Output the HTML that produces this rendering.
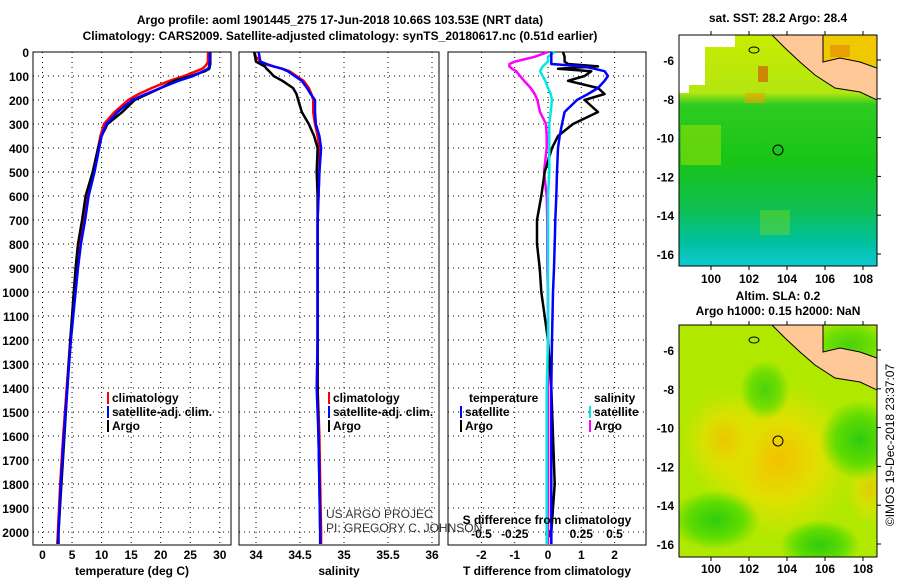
<!DOCTYPE html>
<html><head><meta charset="utf-8">
<style>
body{margin:0;background:#fff;}
svg text{font-family:"Liberation Sans",sans-serif;font-weight:bold;font-size:12px;fill:#000;}
</style></head><body>
<svg id="c" width="900" height="580" viewBox="0 0 900 580" xmlns="http://www.w3.org/2000/svg">
<defs>
<linearGradient id="sstg" x1="0" y1="0" x2="0" y2="1">
<stop offset="0" stop-color="#c8ec00"/><stop offset="0.25" stop-color="#b4e610"/>
<stop offset="0.3" stop-color="#30cc20"/><stop offset="0.55" stop-color="#18c418"/>
<stop offset="0.75" stop-color="#10c050"/><stop offset="0.9" stop-color="#00c0a0"/><stop offset="1" stop-color="#10c8d0"/>
</linearGradient>
<radialGradient id="ylw" cx="0.5" cy="0.5" r="0.5"><stop offset="0" stop-color="#f4c000"/><stop offset="0.5" stop-color="#e0e000"/><stop offset="1" stop-color="#d8e400" stop-opacity="0"/></radialGradient>
<radialGradient id="grn" cx="0.5" cy="0.5" r="0.5"><stop offset="0" stop-color="#30cc10"/><stop offset="0.6" stop-color="#60dc00"/><stop offset="1" stop-color="#60dc00" stop-opacity="0"/></radialGradient>
<clipPath id="m1"><rect x="679" y="35" width="198" height="231"/></clipPath>
<clipPath id="m2"><rect x="679" y="325" width="198" height="232"/></clipPath>
</defs>
<text x="340" y="24" text-anchor="middle" font-size="13">Argo profile: aoml 1901445_275 17-Jun-2018 10.66S 103.53E (NRT data)</text>
<text x="340" y="40" text-anchor="middle" font-size="13">Climatology: CARS2009. Satellite-adjusted climatology: synTS_20180617.nc (0.51d earlier)</text>
<g id="g"></g>
<g>
<text x="778" y="22" text-anchor="middle">sat. SST: 28.2 Argo: 28.4</text>
<g clip-path="url(#m1)">
<rect x="679" y="35" width="198" height="231" fill="url(#sstg)"/>
<rect x="679" y="35" width="26" height="50" fill="#fff"/><rect x="705" y="35" width="30" height="12" fill="#fff"/>
<rect x="679" y="85" width="10" height="8" fill="#fff"/>
<rect x="758" y="66" width="10" height="16" fill="#d06000" opacity="0.7"/>
<rect x="745" y="93" width="20" height="10" fill="#f0a000" opacity="0.6"/>
<rect x="823" y="35" width="54" height="30" fill="#f0c800"/>
<rect x="830" y="45" width="20" height="12" fill="#e8a000"/>
<rect x="681" y="125" width="40" height="40" fill="#a8e400" opacity="0.5"/>
<rect x="760" y="210" width="30" height="25" fill="#a8e400" opacity="0.3"/>
<polygon points="772,35 823,35 823,62 840,58 860,62 877,68 877,100 860,92 835,88 815,75 800,62 785,48" fill="#ffc896" stroke="#000" stroke-width="1"/>
<ellipse cx="754" cy="50" rx="5" ry="3" fill="none" stroke="#000"/>
</g>
<rect x="679" y="35" width="198" height="231" fill="none" stroke="#000"/>
<circle cx="778" cy="150" r="5" fill="none" stroke="#000"/>
</g>
<g>
<text x="778" y="300" text-anchor="middle">Altim. SLA: 0.2</text>
<text x="778" y="315" text-anchor="middle">Argo h1000: 0.15 h2000: NaN</text>
<g clip-path="url(#m2)">
<rect x="679" y="325" width="198" height="232" fill="#b0e800"/>
<ellipse cx="778" cy="460" rx="80" ry="80" fill="url(#ylw)"/>
<ellipse cx="725" cy="440" rx="45" ry="50" fill="url(#ylw)" opacity="0.8"/>
<ellipse cx="870" cy="490" rx="25" ry="35" fill="url(#ylw)" opacity="0.7"/>
<ellipse cx="715" cy="520" rx="45" ry="30" fill="url(#grn)"/>
<ellipse cx="860" cy="440" rx="40" ry="40" fill="url(#grn)"/>
<ellipse cx="765" cy="390" rx="25" ry="30" fill="url(#grn)" opacity="0.8"/>
<ellipse cx="820" cy="545" rx="40" ry="25" fill="url(#grn)"/>
<ellipse cx="850" cy="345" rx="40" ry="25" fill="url(#grn)" opacity="0.8"/>
<polygon points="772,325 823,325 823,352 840,348 860,352 877,358 877,390 860,382 835,378 815,365 800,352 785,338" fill="#ffc896" stroke="#000" stroke-width="1"/>
<ellipse cx="754" cy="340" rx="5" ry="3" fill="none" stroke="#000"/>
</g>
<rect x="679" y="325" width="198" height="232" fill="none" stroke="#000"/>
<circle cx="778" cy="441" r="5" fill="none" stroke="#000"/>
<text transform="translate(894,445) rotate(-90)" text-anchor="middle" style="font-weight:normal">©IMOS 19-Dec-2018 23:37:07</text>
</g>
</svg>
<script>
const depths=[0,20,40,50,60,70,80,100,120,150,175,200,250,300,350,400,500,600,700,800,900,1000,1200,1400,1600,1800,2000,2050];
const tempClim=[28.0,28.0,28.0,27.8,27.5,27.0,26.0,24.0,21.5,18.5,16.3,14.5,12.2,10.4,9.8,9.4,8.6,7.6,7.0,6.3,5.9,5.5,4.7,4.1,3.5,3.0,2.6,2.5];
const tempSat=[28.3,28.3,28.3,28.2,28.2,28.0,27.2,25.5,23.0,20.0,17.5,15.2,12.7,10.8,10.0,9.6,8.8,7.8,7.2,6.5,6.0,5.6,4.8,4.2,3.6,3.1,2.7,2.6];
const tempArgo=[28.4,28.4,28.4,28.4,28.3,28.2,27.5,25.1,22.3,20.0,17.8,15.6,13.5,11.0,10.0,9.4,8.5,7.3,6.7,6.0,5.6,5.3,4.7,4.2,3.7,3.2,2.7,2.7];
const salClim=[33.98,34.0,34.05,34.1,34.2,34.3,34.38,34.46,34.54,34.6,34.63,34.65,34.65,34.67,34.7,34.72,34.72,34.71,34.7,34.7,34.7,34.7,34.7,34.7,34.72,34.73,34.74,34.74];
const salSat=[34.03,34.04,34.05,34.12,34.2,34.3,34.36,34.44,34.52,34.58,34.62,34.67,34.67,34.68,34.72,34.74,34.72,34.71,34.7,34.7,34.7,34.7,34.7,34.69,34.71,34.72,34.73,34.73];
const salArgo=[33.98,33.99,34.0,34.05,34.1,34.12,34.15,34.2,34.3,34.42,34.46,34.48,34.52,34.6,34.66,34.7,34.69,34.7,34.7,34.7,34.7,34.7,34.7,34.7,34.71,34.72,34.73,34.73];
const tDiffSat=[0.1,0.1,0.1,0.1,1.05,1.4,1.7,1.8,1.7,1.5,1.2,0.87,0.5,0.42,0.35,0.3,0.27,0.25,0.22,0.2,0.18,0.15,0.12,0.1,0.1,0.1,0.1,0.1];
const tDiffArgo=[0.45,0.5,0.5,0.6,1.5,0.3,1.3,1.1,0.6,1.5,1.7,1.1,1.5,0.75,0.3,0.12,-0.1,-0.2,-0.33,-0.33,-0.25,-0.2,0.0,0.1,0.15,0.2,0.1,0.1];
const sDiffSat=[0.05,0.0,0.0,-0.02,-0.04,-0.05,-0.06,-0.04,-0.02,0.0,0.02,0.03,0.02,0.01,0.01,0.01,0.01,0.0,0.0,0.0,0.0,0.0,0.0,-0.01,-0.01,-0.01,-0.01,-0.01];
const sDiffArgo=[0.0,-0.1,-0.25,-0.29,-0.29,-0.27,-0.24,-0.21,-0.18,-0.13,-0.1,-0.08,-0.06,-0.015,-0.01,-0.01,-0.03,-0.01,-0.005,-0.005,-0.005,0.0,0.0,0.0,0.0,0.0,0.0,0.0];
const depthTicks=[0,100,200,300,400,500,600,700,800,900,1000,1100,1200,1300,1400,1500,1600,1700,1800,1900,2000];
const tempTicks=[0,5,10,15,20,25,30];
const salTicks=[34,34.5,35,35.5,36];
const tDiffTicks=[-2,-1,0,1,2];
const sDiffTicks=[-0.5,-0.25,0,0.25,0.5];
const sDiffTickLabels=["-0.5","-0.25","0","0.25","0.5"];

const NS="http://www.w3.org/2000/svg";
const G=document.getElementById('g');
function mk(t,a,parent){const e=document.createElementNS(NS,t);for(const k in a)e.setAttribute(k,a[k]);(parent||G).appendChild(e);return e;}
const TOP=52,BOT=545;
const yD=d=>TOP+0.24*d;
const xT=v=>42.5+5.91*v;
const xS=v=>256+88*(v-34);
const xTD=v=>548+33.3*v;
const xSD=v=>548+133*v;
const panels=[[33,231,'temperature-panel'],[239,439,'salinity-panel'],[448,646,'difference-panel']];
panels.forEach(p=>{
  const r=mk('rect',{x:p[0],y:TOP,width:p[1]-p[0],height:BOT-TOP,fill:'none',stroke:'#000'});
  
  
  depthTicks.forEach(d=>{
    const l=mk('line',{x1:p[0],x2:p[1],y1:yD(d),y2:yD(d),stroke:'#000','stroke-dasharray':'1 4'});
    
    
  });
});
depthTicks.forEach(d=>{
  const t=mk('text',{x:29,y:yD(d)+5,'text-anchor':'end'});t.textContent=d;
  
  
});
function vgrid(ticks,fx,p,labels,ly){
  ticks.forEach((v,i)=>{
    const l=mk('line',{x1:fx(v),x2:fx(v),y1:TOP,y2:BOT,stroke:'#000','stroke-dasharray':'1 4'});
    
    
    const t=mk('text',{x:fx(v),y:ly,'text-anchor':'middle'});t.textContent=labels?labels[i]:v;
    
    
  });
}
vgrid(tempTicks,xT,panels[0],null,559);
vgrid(salTicks,xS,panels[1],null,559);
vgrid(tDiffTicks,xTD,panels[2],null,559);
sDiffTicks.forEach((v,i)=>{
  const t=mk('text',{x:xSD(v),y:538,'text-anchor':'middle'});t.textContent=sDiffTickLabels[i];
  
  
});
function line(vals,fx,color,name,w){
  const pts=vals.map((v,i)=>fx(v).toFixed(1)+','+yD(depths[i]).toFixed(1)).join(' ');
  const e=mk('polyline',{points:pts,fill:'none',stroke:color,'stroke-width':w||2.5,'stroke-linejoin':'round'});
  
  
}
line(tempClim,xT,'#ff0000','temp-climatology-line');
line(tempArgo,xT,'#000','temp-argo-line');
line(tempSat,xT,'#0000ff','temp-satellite-line');
line(salClim,xS,'#ff0000','sal-climatology-line');
line(salArgo,xS,'#000','sal-argo-line');
line(salSat,xS,'#0000ff','sal-satellite-line');
line(sDiffArgo,xSD,'#ff00ff','s-diff-argo-line');
line(tDiffArgo,xTD,'#000','t-diff-argo-line');
line(sDiffSat,xSD,'#00e8e8','s-diff-satellite-line');
line(tDiffSat,xTD,'#0000ff','t-diff-satellite-line');
function txt(x,y,s,name,extra){const t=mk('text',Object.assign({x:x,y:y},extra||{}));t.textContent=s;
  
  return t;}
txt(132,575,'temperature (deg C)','x-axis-title-temperature',{'text-anchor':'middle'});
txt(339,575,'salinity','x-axis-title-salinity',{'text-anchor':'middle'});
txt(547,575,'T difference from climatology','x-axis-title-t-diff',{'text-anchor':'middle'});
txt(547,524,'S difference from climatology','s-diff-axis-title',{'text-anchor':'middle'});
function leg(x,y,color,label){mk('rect',{x:x,y:y-10,width:2,height:12,fill:color});
  txt(x+5,y,label,'legend-entry');}
leg(107,402,'#ff0000','climatology');leg(107,416,'#0000ff','satellite-adj. clim.');leg(107,430,'#000','Argo');
leg(328,402,'#ff0000','climatology');leg(328,416,'#0000ff','satellite-adj. clim.');leg(328,430,'#000','Argo');
txt(469,402,'temperature','legend-heading-temperature');
leg(460,416,'#0000ff','satellite');leg(460,430,'#000','Argo');
txt(594,402,'salinity','legend-heading-salinity');
leg(589,416,'#00e8e8','satellite');leg(589,430,'#ff00ff','Argo');
txt(326,518,'US ARGO PROJEC','pi-credit-1',{style:'font-weight:normal;fill:#333'});
txt(326,532,'PI: GREGORY C. JOHNSON','pi-credit-2',{style:'font-weight:normal;fill:#333'});
const lonTicks=[100,102,104,106,108];
const latTicks=[-6,-8,-10,-12,-14,-16];
const xLon=v=>711+19*(v-100);
[[35,266,60,278],[325,557,350,568]].forEach((m,k)=>{
  const yLat=v=>m[2]+19.4*(-6-v);
  lonTicks.forEach(v=>{
    mk('line',{x1:xLon(v),x2:xLon(v),y1:m[0],y2:m[0]-4,stroke:'#000'});
    mk('line',{x1:xLon(v),x2:xLon(v),y1:m[1],y2:m[1]+4,stroke:'#000'});
    txt(xLon(v),m[3]+5,v,'map-lon-label',{'text-anchor':'middle'});
  });
  latTicks.forEach(v=>{
    mk('line',{x1:877,x2:881,y1:yLat(v),y2:yLat(v),stroke:'#000'});
    txt(674,yLat(v)+5,v,'map-lat-label',{'text-anchor':'end'});
  });
});
</script>
</body></html>
